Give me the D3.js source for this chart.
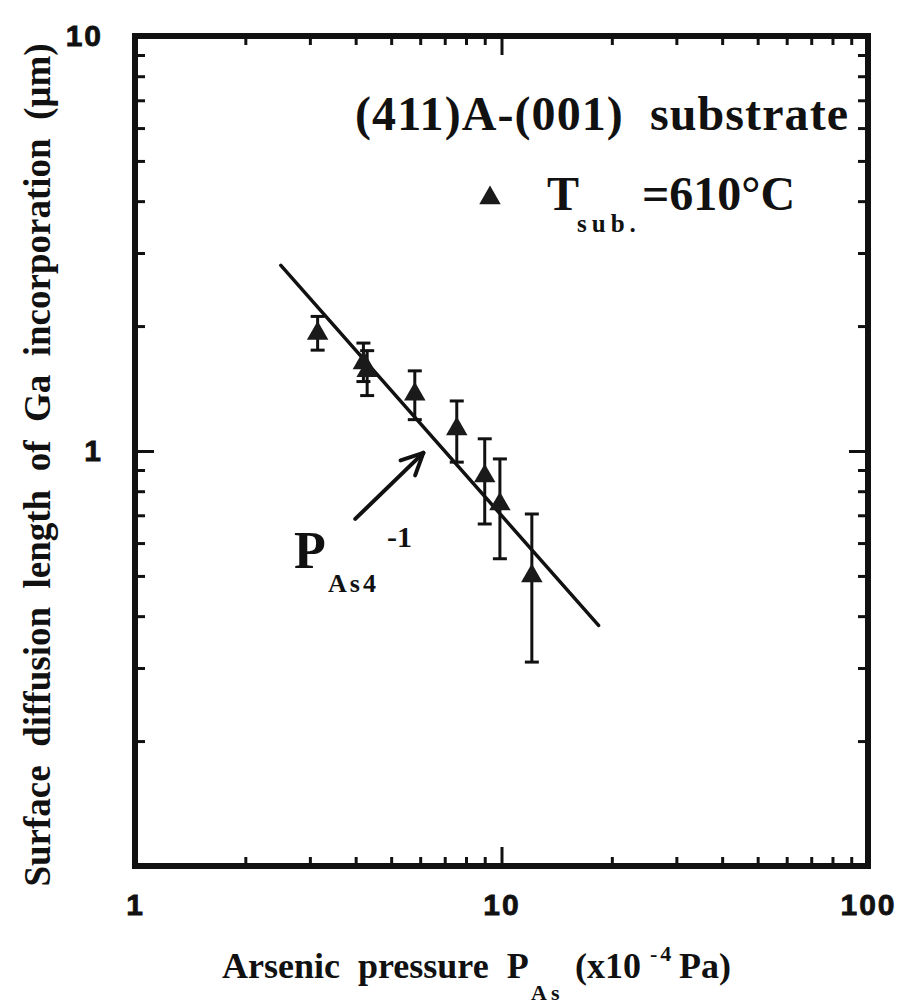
<!DOCTYPE html>
<html>
<head>
<meta charset="utf-8">
<script src="https://cdn.jsdelivr.net/npm/d3@7"></script>
<style>
  body { margin: 0; background: #fff; }
  svg { display: block; }
</style>
</head>
<body>
<div id="chart"></div>
<script>
// data
var pressure   = [3.15, 4.2, 4.3, 5.8, 7.55, 9.0, 9.9, 12.1];
var diffLength = [1.92, 1.63, 1.56, 1.37, 1.13, 0.87, 0.745, 0.50];
var errLow     = [1.75, 1.47, 1.36, 1.19, 0.94, 0.667, 0.55, 0.31];
var errHigh    = [2.11, 1.82, 1.745, 1.56, 1.32, 1.07, 0.957, 0.705];

// P^-1 guide line
var fitX = [2.5, 18.4];
var fitY = [2.8, 0.38];

// annotation arrow (data coords)
var arrowFrom = [3.99, 0.686];
var arrowTo   = [6.12, 0.99];

var xMinorTicks = [2, 3, 4, 5, 6, 7, 8, 9, 20, 30, 40, 50, 60, 70, 80, 90];
var xMajorTicks = [10];
var xLabels     = [1, 10, 100];
var yMinorTicks = [0.2, 0.3, 0.4, 0.5, 0.6, 0.7, 0.8, 0.9, 2, 3, 4, 5, 6, 7, 8, 9];
var yMajorTicks = [1];
var yLabels     = [1, 10];

var W = 903, H = 1006;
var serifFont = '"Liberation Serif", "Times New Roman", serif';
var sansFont = '"Liberation Sans", Arial, sans-serif';
var ink = '#111';

var x = d3.scaleLog().domain([1, 100]).range([135, 868]);
var y = d3.scaleLog().domain([0.1, 10]).range([866, 36]);

var svg = d3.select('#chart').append('svg').attr('width', W).attr('height', H);

function styleAxis(g, sw) {
  g.select('.domain').remove();
  g.selectAll('.tick line').attr('stroke', ink).attr('stroke-width', sw);
  g.selectAll('text').attr('fill', ink).attr('font-family', sansFont).attr('font-weight', 'bold')
    .attr('font-size', 30).attr('letter-spacing', 2)
    .attr('stroke', ink).attr('stroke-width', 0.8);
}

var x0 = x.range()[0], x1 = x.range()[1], y0 = y.range()[0], y1 = y.range()[1];

// minor ticks (inward) on all four sides
svg.append('g').attr('transform', 'translate(0,' + y0 + ')')
  .call(d3.axisBottom(x).tickValues(xMinorTicks).tickSize(-9).tickFormat(''))
  .call(styleAxis, 3);
svg.append('g').attr('transform', 'translate(0,' + y1 + ')')
  .call(d3.axisTop(x).tickValues(xMinorTicks).tickSize(-9).tickFormat(''))
  .call(styleAxis, 3);
svg.append('g').attr('transform', 'translate(' + x0 + ',0)')
  .call(d3.axisLeft(y).tickValues(yMinorTicks).tickSize(-10).tickFormat(''))
  .call(styleAxis, 3);
svg.append('g').attr('transform', 'translate(' + x1 + ',0)')
  .call(d3.axisRight(y).tickValues(yMinorTicks).tickSize(-10).tickFormat(''))
  .call(styleAxis, 3);

// major ticks
svg.append('g').attr('transform', 'translate(0,' + y0 + ')')
  .call(d3.axisBottom(x).tickValues(xMajorTicks).tickSize(-19).tickFormat(''))
  .call(styleAxis, 3);
svg.append('g').attr('transform', 'translate(0,' + y1 + ')')
  .call(d3.axisTop(x).tickValues(xMajorTicks).tickSize(-19).tickFormat(''))
  .call(styleAxis, 3);
svg.append('g').attr('transform', 'translate(' + x0 + ',0)')
  .call(d3.axisLeft(y).tickValues(yMajorTicks).tickSize(-19).tickFormat(''))
  .call(styleAxis, 3);
svg.append('g').attr('transform', 'translate(' + x1 + ',0)')
  .call(d3.axisRight(y).tickValues(yMajorTicks).tickSize(-19).tickFormat(''))
  .call(styleAxis, 3);

// tick labels
svg.append('g').attr('transform', 'translate(0,' + y0 + ')')
  .call(d3.axisBottom(x).tickValues(xLabels).tickSize(0).tickPadding(28).tickFormat(d3.format('d')))
  .call(styleAxis, 0);
svg.append('g').attr('transform', 'translate(' + x0 + ',0)')
  .call(d3.axisLeft(y).tickValues(yLabels).tickSize(0).tickPadding(32).tickFormat(d3.format('d')))
  .call(styleAxis, 0);

// frame
svg.append('rect')
  .attr('x', x0).attr('y', y1).attr('width', x1 - x0).attr('height', y0 - y1)
  .attr('fill', 'none').attr('stroke', ink).attr('stroke-width', 6);

// guide line
svg.append('line')
  .attr('x1', x(fitX[0])).attr('y1', y(fitY[0]))
  .attr('x2', x(fitX[1])).attr('y2', y(fitY[1]))
  .attr('stroke', ink).attr('stroke-width', 3.5).attr('stroke-linecap', 'round');

// error bars
var pts = pressure.map(function (p, i) {
  return { p: p, v: diffLength[i], lo: errLow[i], hi: errHigh[i] };
});
var eb = svg.append('g').attr('stroke', ink).attr('stroke-width', 3);
eb.selectAll('line.v').data(pts).enter().append('line')
  .attr('x1', function (d) { return x(d.p); }).attr('x2', function (d) { return x(d.p); })
  .attr('y1', function (d) { return y(d.lo); }).attr('y2', function (d) { return y(d.hi); });
['lo', 'hi'].forEach(function (k) {
  eb.selectAll('line.' + k).data(pts).enter().append('line')
    .attr('x1', function (d) { return x(d.p) - 7; }).attr('x2', function (d) { return x(d.p) + 7; })
    .attr('y1', function (d) { return y(d[k]); }).attr('y2', function (d) { return y(d[k]); });
});

// triangles
var tri = d3.symbol().type(d3.symbolTriangle).size(200);
svg.append('g').selectAll('path').data(pts).enter().append('path')
  .attr('d', tri)
  .attr('transform', function (d) { return 'translate(' + x(d.p) + ',' + y(d.v) + ')'; })
  .attr('fill', '#1a1a1a');

// arrow
var ax0 = x(arrowFrom[0]), ay0 = y(arrowFrom[1]), ax1 = x(arrowTo[0]), ay1 = y(arrowTo[1]);
var ang = Math.atan2(ay1 - ay0, ax1 - ax0);
var ag = svg.append('g').attr('stroke', ink).attr('stroke-width', 4).attr('stroke-linecap', 'round').attr('fill', 'none');
ag.append('line').attr('x1', ax0).attr('y1', ay0).attr('x2', ax1).attr('y2', ay1);
[-0.45, 0.45].forEach(function (da) {
  ag.append('line').attr('x1', ax1).attr('y1', ay1)
    .attr('x2', ax1 - 24 * Math.cos(ang + da)).attr('y2', ay1 - 24 * Math.sin(ang + da));
});

// text helper
function txt(s, px, py, size, opts) {
  opts = opts || {};
  var t = svg.append('text').attr('x', px).attr('y', py)
    .attr('font-family', opts.family || serifFont).attr('font-weight', 'bold')
    .attr('font-size', size).attr('fill', ink)
    .style('white-space', 'pre').text(s);
  if (opts.ls) t.attr('letter-spacing', opts.ls);
  if (opts.len) t.attr('textLength', opts.len).attr('lengthAdjust', 'spacing');
  if (opts.anchor) t.attr('text-anchor', opts.anchor);
  if (opts.rotate) t.attr('transform', 'rotate(-90,' + px + ',' + py + ')');
  return t;
}

// title + legend
txt('(411)A-(001)  substrate', 355, 130, 48, { len: 493 });
svg.append('path').attr('d', tri).attr('transform', 'translate(490,198)').attr('fill', '#1a1a1a');
txt('T', 547, 210, 48);
txt('sub.', 577, 232, 25, { ls: 5 });
txt('=610\u00B0C', 642, 210, 48);

// annotation
txt('P', 294, 568, 52);
txt('As4', 328, 592, 26, { ls: 3 });
txt('-1', 387, 547, 30);

// axis titles
txt('Arsenic  pressure  P', 222, 978, 36);
txt('As', 531, 1000, 22, { ls: 4 });
txt('(x10', 575, 978, 36);
txt('-4', 650, 961, 22, { ls: 3 });
txt('Pa)', 679, 978, 36);

txt('Surface  diffusion  length  of  Ga  incorporation  (\u03BCm)', 50, 465, 37, { anchor: 'middle', rotate: true });
</script>
</body>
</html>
